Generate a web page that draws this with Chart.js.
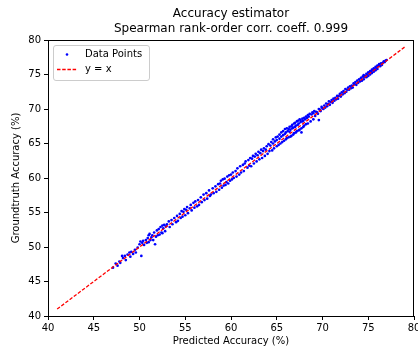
<!DOCTYPE html>
<html>
<head>
<meta charset="utf-8">
<script src="https://cdn.jsdelivr.net/npm/chart.js@4"></script>
<style>
  html, body { margin:0; padding:0; background:#fff; }
  canvas { display:block; }
</style>
</head>
<body>
<canvas id="acc" width="418" height="348"></canvas>
<script>
const predicted = [
  47.1,47.4,47.6,47.8,47.9,48.1,48.2,48.4,48.5,48.7,48.9,49.0,49.1,49.3,49.5,49.6,49.8,50.0,50.1,50.2,
  50.3,50.4,50.5,50.7,50.8,50.9,51.0,51.0,51.1,51.2,51.3,51.4,51.5,51.6,51.7,51.8,51.9,52.0,52.1,52.2,52.3,52.4,52.5,52.5,52.6,52.7,52.8,52.9,53.0,53.2,53.3,53.5,53.6,53.8,54.0,
  54.1,54.2,54.4,54.5,54.6,54.7,54.8,54.9,55.0,55.1,55.2,55.3,55.5,55.6,55.7,55.9,56.0,56.1,56.3,56.4,56.5,56.7,56.8,57.0,57.1,57.3,57.4,57.6,57.7,57.8,58.0,58.1,58.3,58.4,58.6,
  58.7,58.8,58.9,59.0,59.1,59.2,59.3,59.4,59.5,59.6,59.7,59.8,59.9,60.0,60.1,60.2,60.3,60.5,60.6,60.7,60.9,61.0,61.1,61.3,61.4,61.5,61.6,61.8,61.9,62.0,62.1,62.2,62.3,62.4,62.5,
  62.6,62.7,62.8,62.9,63.0,63.1,63.2,63.3,63.4,63.5,63.6,63.7,63.8,63.9,64.0,64.1,64.2,64.3,64.4,64.5,64.6,64.6,64.7,64.8,64.9,65.0,65.0,65.1,65.2,65.3,65.3,65.4,65.5,65.5,65.6,65.7,65.7,65.8,65.9,65.9,66.0,66.0,66.1,66.1,66.2,
  66.3,66.3,66.4,66.4,66.5,66.5,66.6,66.6,66.7,66.7,66.8,66.8,66.9,66.9,67.0,67.0,67.1,67.1,67.2,67.2,67.3,67.3,67.4,67.4,67.5,67.5,67.6,67.6,67.7,67.7,67.8,67.8,67.9,67.9,68.0,68.0,68.1,68.2,68.2,68.3,68.4,68.4,68.5,68.6,68.7,68.8,68.9,69.0,69.0,69.1,
  69.2,69.3,69.4,69.5,69.6,69.6,69.7,69.8,69.9,70.0,70.1,70.2,70.3,70.4,70.5,70.6,70.7,70.8,70.9,71.0,71.1,71.2,71.3,71.4,71.5,71.6,71.7,71.8,71.9,72.0,72.1,72.2,72.3,72.4,72.5,72.6,72.7,72.8,72.9,73.0,73.1,
  73.2,73.3,73.4,73.5,73.6,73.7,73.8,73.9,74.0,74.1,74.2,74.3,74.4,74.5,74.5,74.6,74.7,74.8,74.8,74.9,75.0,75.0,75.1,75.2,75.2,75.3,75.4,75.4,75.5,75.6,75.6,75.7,75.8,75.8,75.9,76.0,76.0,76.1,76.2,76.3,76.4,76.5,76.6,76.7,76.8,76.9,77.0
];
const groundtruth = [
  47.0,47.6,47.3,47.9,47.7,48.7,48.4,48.7,48.1,48.9,49.2,48.6,49.3,49.0,49.6,49.2,49.9,50.4,50.8,48.7,
  50.6,50.9,50.3,51.0,50.6,51.3,50.7,51.7,51.9,51.0,51.4,51.7,51.0,52.1,50.4,51.5,52.4,51.7,52.6,51.8,52.9,52.1,53.1,52.0,52.7,53.2,52.3,53.0,53.3,53.7,52.9,53.9,53.3,54.2,53.6,
  54.5,53.8,54.8,54.2,55.2,54.4,55.1,55.5,54.6,55.4,55.8,54.9,55.6,56.1,55.3,56.4,55.7,56.6,55.9,56.8,56.1,57.2,56.5,57.6,56.8,57.8,57.0,58.2,57.4,57.6,58.5,57.8,58.8,58.0,59.1,
  58.3,59.2,59.6,58.6,59.8,58.9,59.9,59.0,59.4,60.2,59.2,60.4,59.6,60.5,59.8,60.8,60.0,61.0,60.2,61.4,60.5,61.7,60.8,61.9,61.0,62.1,62.4,61.5,62.6,61.8,62.9,61.7,62.8,63.2,62.1,
  63.1,63.5,62.4,63.3,63.8,62.7,63.6,64.1,62.9,63.9,64.3,63.2,64.1,64.6,63.5,64.9,63.9,64.7,65.2,64.0,65.0,65.6,64.3,65.3,65.9,64.6,65.5,66.0,64.8,65.7,66.3,65.0,66.0,66.6,65.2,66.2,66.8,65.4,66.4,67.1,65.6,66.6,67.2,65.8,66.8,
  65.9,67.1,66.7,67.4,66.0,67.0,67.5,66.1,67.2,67.7,66.3,67.3,67.9,66.5,67.4,68.0,66.6,67.6,68.2,66.8,67.7,68.3,66.9,67.9,68.5,67.0,68.1,68.4,67.2,66.6,68.2,68.6,67.4,68.3,68.7,67.6,68.5,68.9,67.8,68.7,69.1,67.9,68.9,69.3,68.2,69.2,69.5,68.5,69.4,69.7,
  69.0,69.6,69.5,69.3,70.0,68.4,69.9,69.7,70.3,70.1,70.0,70.5,70.2,70.8,70.4,70.7,71.1,70.6,71.0,71.3,70.9,71.5,71.2,71.6,71.4,71.9,71.5,71.9,72.2,71.8,72.4,72.1,72.6,72.3,72.9,72.5,72.8,73.1,72.8,73.3,73.0,
  73.4,73.1,73.7,73.6,73.9,73.5,74.1,73.8,74.3,74.0,74.5,74.1,74.7,74.3,74.9,74.6,74.8,75.1,74.6,75.0,75.3,74.8,75.2,75.5,75.0,75.4,75.7,75.2,75.6,75.9,75.4,75.8,76.1,75.6,76.0,76.3,75.8,76.2,76.5,76.2,76.6,76.4,76.7,76.9,76.8,77.0,77.1
];
// recta y = x
const identityX = [41, 79];
const xTicks = [40, 45, 50, 55, 60, 65, 70, 75, 80];
const yTicks = [40, 45, 50, 55, 60, 65, 70, 75, 80];

const FONT = 'DejaVu Sans, sans-serif';
const C = { azul:'#0000ff', rojo:'#ff0000', negro:'#000000' };

// marco completo y leyenda estilo matplotlib
const marco = {
  id:'marco',
  afterDraw(chart){
    const ctx = chart.ctx, a = chart.chartArea;
    ctx.save();
    ctx.strokeStyle = C.negro; ctx.lineWidth = 1;
    ctx.strokeRect(Math.round(a.left)+0.5, Math.round(a.top)+0.5, Math.round(a.right-a.left)-1, Math.round(a.bottom-a.top));
    // leyenda
    const x = 53.5, y = 45.5, w = 96, h = 35, r = 2.5;
    ctx.beginPath();
    ctx.moveTo(x+r, y); ctx.lineTo(x+w-r, y); ctx.arcTo(x+w, y, x+w, y+r, r);
    ctx.lineTo(x+w, y+h-r); ctx.arcTo(x+w, y+h, x+w-r, y+h, r);
    ctx.lineTo(x+r, y+h); ctx.arcTo(x, y+h, x, y+h-r, r);
    ctx.lineTo(x, y+r); ctx.arcTo(x, y, x+r, y, r);
    ctx.closePath();
    ctx.fillStyle = 'rgba(255,255,255,0.8)'; ctx.fill();
    ctx.strokeStyle = '#cccccc'; ctx.lineWidth = 1; ctx.stroke();
    ctx.fillStyle = C.azul;
    ctx.beginPath(); ctx.arc(67, 54.5, 1.3, 0, Math.PI*2); ctx.fill();
    ctx.strokeStyle = C.rojo; ctx.lineWidth = 1.3; ctx.setLineDash([3.5, 1.7]);
    ctx.beginPath(); ctx.moveTo(57, 69.5); ctx.lineTo(77, 69.5); ctx.stroke();
    ctx.setLineDash([]);
    ctx.fillStyle = C.negro; ctx.font = '10px ' + FONT; ctx.textBaseline = 'middle'; ctx.textAlign = 'left';
    ctx.fillText('Data Points', 85, 54.5);
    ctx.fillText('y = x', 85, 69.5);
    ctx.restore();
  }
};

new Chart(document.getElementById('acc'), {
  type:'scatter',
  data:{
    datasets:[
      { label:'y = x', data:identityX.map(v => ({x:v, y:v})), showLine:true, pointRadius:0,
        borderColor:C.rojo, borderWidth:1.3, borderDash:[3.5,1.7], order:0 },
      { label:'Data Points', data:predicted.map((v,i) => ({x:v, y:groundtruth[i]})),
        pointRadius:1.35, pointBorderWidth:0, backgroundColor:C.azul, borderColor:C.azul, order:1 }
    ]
  },
  options:{
    responsive:false, animation:false, devicePixelRatio:1,
    layout:{ padding:{ left:0, right:2, top:0, bottom:0 } },
    plugins:{
      legend:{ display:false }, tooltip:{ enabled:false },
      title:{ display:true, fullSize:false, text:['Accuracy estimator','Spearman rank-order corr. coeff. 0.999'],
        color:C.negro, font:{ family:FONT, size:12, weight:'normal', lineHeight:1.25 }, padding:{ top:6.5, bottom:3.5 } }
    },
    scales:{
      x:{
        type:'linear', min:40, max:80,
        afterBuildTicks: s => { s.ticks = xTicks.map(v => ({value:v})); },
        afterFit: s => { s.height = 32; s.paddingLeft = 0; s.paddingRight = 0; },
        grid:{ display:true, drawOnChartArea:false, drawTicks:true, tickLength:4, color:C.negro },
        border:{ display:true, color:C.negro, width:1 },
        ticks:{ color:C.negro, font:{ family:FONT, size:10 }, padding:2, maxRotation:0, autoSkip:false },
        title:{ display:true, text:'Predicted Accuracy (%)', color:C.negro, font:{ family:FONT, size:10 }, padding:{ top:0, bottom:1 } }
      },
      y:{
        type:'linear', min:40, max:80,
        afterBuildTicks: s => { s.ticks = yTicks.map(v => ({value:v})); },
        afterFit: s => { s.width = 48; s.paddingTop = 0; s.paddingBottom = 0; },
        grid:{ display:true, drawOnChartArea:false, drawTicks:true, tickLength:4, color:C.negro },
        border:{ display:true, color:C.negro, width:1 },
        ticks:{ color:C.negro, font:{ family:FONT, size:10 }, padding:3, autoSkip:false },
        title:{ display:true, text:'Groundtruth Accuracy (%)', color:C.negro, font:{ family:FONT, size:10 }, padding:{ top:10, bottom:0 } }
      }
    }
  },
  plugins:[marco]
});
</script>
</body>
</html>
